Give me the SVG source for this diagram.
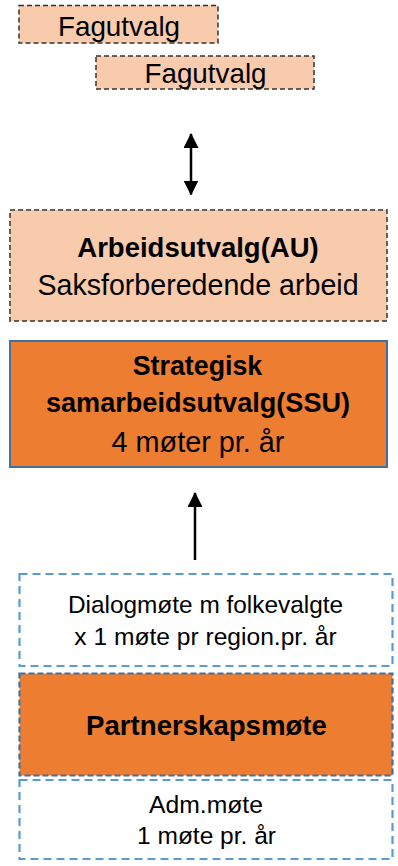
<svg xmlns="http://www.w3.org/2000/svg" width="398" height="866" viewBox="0 0 398 866">
<style>
text{font-family:"Liberation Sans",Arial,sans-serif;fill:#000;text-anchor:middle}
.b{font-weight:bold}
.peach{fill:#F8CBAD;stroke:#333;stroke-width:1.5;stroke-dasharray:5 3}
.orange{fill:#ED7D31}
.blue{fill:#fff;stroke:#5B9BD5;stroke-width:2.2;stroke-dasharray:8 5}
.conn{stroke:#000;stroke-width:2.5;fill:none}
</style>
<defs>
<marker id="ah" viewBox="0 0 15 15" refX="14" refY="7.5" markerWidth="15" markerHeight="15" markerUnits="userSpaceOnUse" orient="auto-start-reverse">
<path d="M0,0 L15,7.5 L0,15 Z" fill="#000"/>
</marker>
</defs>
<g id="fagutvalg1">
<rect class="peach" x="19" y="5.5" width="199" height="37.5"/>
<text x="119" y="36" font-size="27.8">Fagutvalg</text>
</g>
<g id="fagutvalg2">
<rect class="peach" x="96" y="56" width="218" height="33"/>
<text x="205.5" y="83" font-size="27.8">Fagutvalg</text>
</g>
<g id="au">
<rect class="peach" x="10" y="210" width="377" height="111"/>
<text class="b" x="198" y="257" font-size="27.5">Arbeidsutvalg(AU)</text>
<text x="198" y="295" font-size="28.6">Saksforberedende arbeid</text>
</g>
<g id="ssu">
<rect class="orange" x="10" y="341" width="377" height="126" stroke="#41719C" stroke-width="2"/>
<text class="b" x="197.5" y="375" font-size="26.8">Strategisk</text>
<text class="b" x="198" y="411.5" font-size="27.1">samarbeidsutvalg(SSU)</text>
<text x="198" y="451.5" font-size="28.8">4 møter pr. år</text>
</g>
<g id="dialog">
<rect class="blue" x="19.5" y="574" width="373" height="92"/>
<text x="205.5" y="612.5" font-size="24.4">Dialogmøte m folkevalgte</text>
<text x="205.5" y="645" font-size="24.6">x 1 møte pr region.pr. år</text>
</g>
<g id="partnerskap">
<rect class="orange" x="19.5" y="673.5" width="373" height="102" stroke="#41719C" stroke-width="2.2" stroke-dasharray="6 3"/>
<text class="b" x="206.5" y="735" font-size="27.6">Partnerskapsmøte</text>
</g>
<g id="adm">
<rect class="blue" x="19.5" y="780" width="373" height="79"/>
<text x="206" y="813" font-size="24.7">Adm.møte</text>
<text x="206.5" y="844" font-size="24.5">1 møte pr. år</text>
</g>
<g id="connectors">
<line class="conn" x1="191" y1="134" x2="191" y2="194.5" marker-start="url(#ah)" marker-end="url(#ah)"/>
<line class="conn" x1="195" y1="560" x2="195" y2="493" marker-end="url(#ah)"/>
</g>
</svg>
